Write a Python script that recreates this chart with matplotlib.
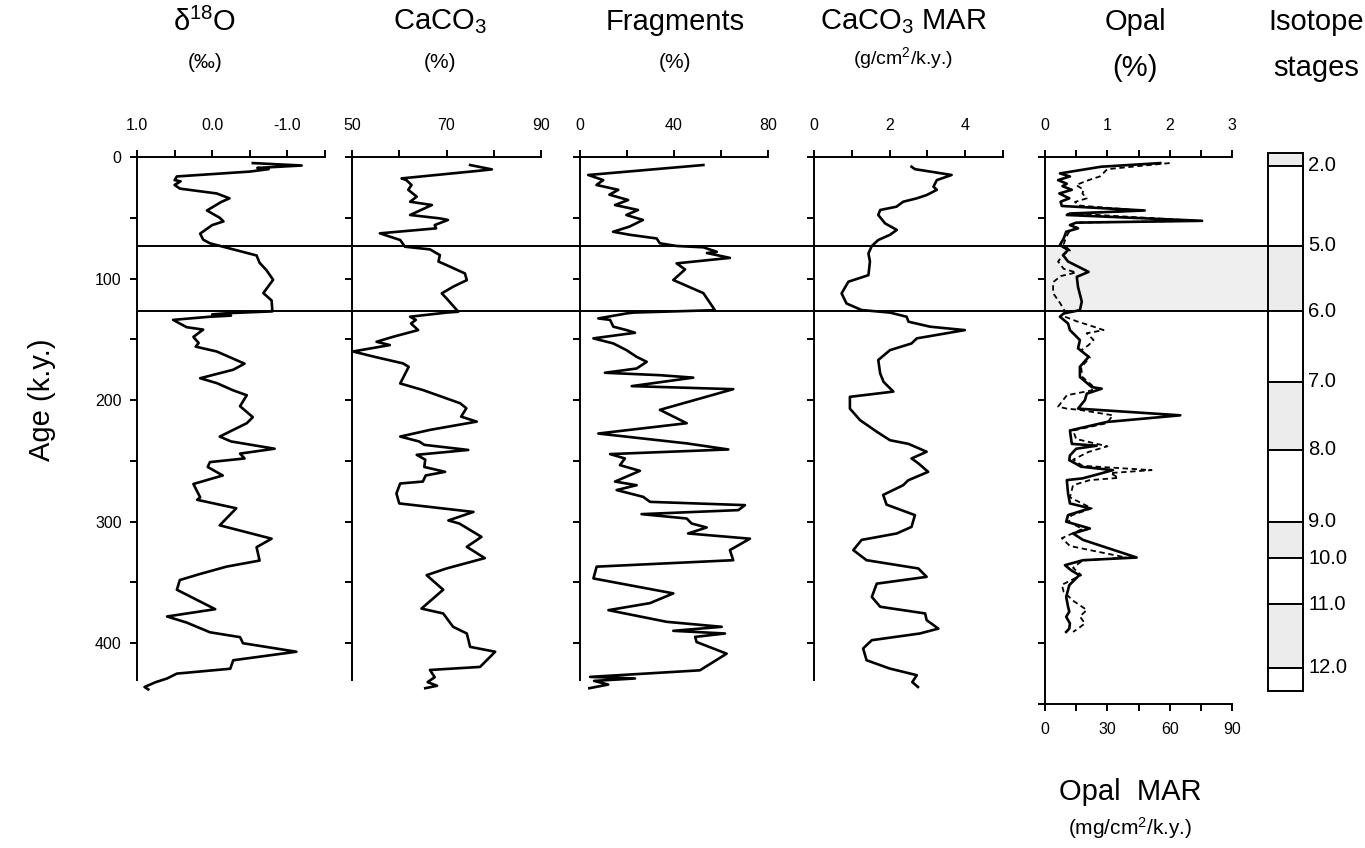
import matplotlib.pyplot as plt
from matplotlib.patches import Rectangle

plt.rcParams["font.family"] = ["Liberation Sans", "DejaVu Sans"]
plt.rcParams["mathtext.fontset"] = "custom"
plt.rcParams["mathtext.rm"] = "Liberation Sans"
plt.rcParams["mathtext.default"] = "rm"

# ---- data (age in k.y.) ----
d18o_age = [5, 7, 9, 10, 12, 16, 19, 20, 23, 26, 30, 34, 37, 44, 50, 53, 56, 63, 68, 71,
            76, 81, 87, 93, 101, 112, 118, 127, 128.5, 129.5, 130.5, 131.5, 134, 140, 142,
            148, 153, 156, 160, 170, 175, 182, 186, 192, 196, 205, 214, 219, 230, 234, 240,
            244, 248, 251, 255, 262, 269, 280, 282, 289, 303, 314, 321, 332, 337, 343, 348,
            356, 372, 378, 383, 391, 395, 400, 407, 414, 421, 425, 429, 432, 436, 438]
d18o_val = [-0.54, -1.19, -0.6, -0.75, -0.5, 0.47, 0.5, 0.42, 0.5, 0.43, -0.06, -0.23, -0.12,
            0.07, -0.1, -0.15, 0.0, 0.16, 0.12, 0.03, -0.28, -0.59, -0.63, -0.72, -0.81,
            -0.68, -0.79, -0.8, -0.2, 0.0, -0.25, 0.05, 0.52, 0.34, 0.12, 0.25, 0.18, 0.22,
            -0.06, -0.43, -0.28, 0.16, -0.06, -0.28, -0.46, -0.37, -0.54, -0.46, -0.1, -0.25,
            -0.83, -0.37, -0.43, 0.03, 0.06, -0.14, 0.25, 0.16, 0.2, -0.32, -0.1, -0.79,
            -0.59, -0.63, -0.19, 0.16, 0.43, 0.47, -0.04, 0.6, 0.34, 0.03, -0.37, -0.41,
            -1.12, -0.28, -0.24, 0.47, 0.6, 0.75, 0.9, 0.85]

caco3_age = [6.6, 10.2, 11.5, 17.6, 19, 23, 27, 32.6, 36.8, 39.5, 47.7, 50.5, 51.8, 56, 58.7,
             62.8, 68.3, 73.8, 76, 80.7, 86, 88.9, 95.8, 101.3, 106.7, 112.2, 116.3, 127.3,
             128, 131.4, 134, 137, 142.4, 147.9, 152, 154.7, 160, 164.6, 169.8, 172.6, 186.3,
             191.7, 202.6, 206.7, 213.6, 217.7, 224.5, 230, 234, 236.8, 241, 245, 249, 255,
             259, 262, 267, 268.6, 276.8, 285, 292, 299, 301.5, 312.5, 320.7, 330, 338.5,
             344, 356, 371.5, 375.5, 386.5, 392, 403, 407, 419.5, 422, 428, 432, 435, 437]
caco3_val = [75, 79.6, 76.4, 60.5, 61.5, 62.6, 61.9, 63.7, 62.3, 66.9, 62.3, 68.6, 70.3, 67.5,
             67.8, 55.9, 60.2, 61.2, 66.5, 68.6, 68.3, 70, 73.9, 74.3, 71.4, 69, 70, 72.5, 70,
             62.3, 63.5, 62.5, 64, 58.7, 55.2, 58, 50.2, 55, 60.8, 62, 60.2, 65, 72.9, 74.2,
             73.1, 76.4, 66.5, 60.2, 64.2, 65.3, 74.6, 63.7, 65.5, 65.3, 69.7, 65.6, 65, 60.2,
             59.4, 60, 75.7, 70.4, 72.7, 77.4, 74.3, 78.1, 70, 65.8, 69.3, 64.7, 69.3, 71.4,
             74.3, 75, 80.3, 77.1, 66.5, 67.5, 66, 68, 65.5]

frag_age = [6.6, 14.8, 19, 23, 27, 31, 35.4, 39.5, 43.6, 47.7, 51.8, 57.3, 61.5, 64, 67, 71,
            73.2, 74.3, 78, 79, 83, 87.5, 92.5, 101.2, 112, 126, 128, 128.7, 132.8, 134,
            139.6, 142.4, 144.6, 149.2, 153.4, 158.9, 164.4, 168.5, 174, 177.5, 179.5, 181.5,
            188.5, 191, 208, 219, 227.5, 235.6, 240.6, 244.4, 248, 253.5, 258.2, 267, 270,
            274, 279.6, 283.7, 286.4, 290.5, 293.8, 297.4, 301.5, 304.8, 309.7, 314, 323.4,
            331.7, 337, 346.7, 359, 367, 372.8, 382.4, 386.5, 389.8, 392, 394.8, 399, 408.6,
            422.3, 427.7, 429, 431, 434, 437]
frag_val = [52.5, 3.5, 9.9, 7, 16.3, 12.5, 20.5, 14.9, 24.7, 19.7, 26.8, 21, 14.1, 21.2, 32.6,
            34, 41.1, 52.5, 58.2, 54, 63.8, 41.1, 44.7, 39.7, 52.5, 57.4, 22.7, 19.8, 7.8,
            12.8, 14.2, 19.8, 23.4, 5.7, 14.2, 19.8, 24.1, 28.4, 24.1, 10.6, 34, 48.2, 22,
            65.2, 34, 45.4, 7.8, 45.4, 63.1, 12.8, 19.1, 17, 25.5, 14.9, 24.1, 15.6, 26.9,
            29.8, 70.2, 67.4, 26.2, 45.4, 47.5, 53.9, 46, 72.3, 63.8, 65.2, 7.1, 5.7, 39.7,
            29.8, 12.1, 36.9, 60.3, 39.7, 61.7, 49, 49.6, 62.4, 51, 4.3, 23.4, 6, 12, 4]

mar_age = [8, 10, 13.5, 14.8, 19, 24.4, 27, 31.3, 34, 36.8, 40.9, 43.6, 47.7, 54.6, 60, 64,
           68.3, 73.2, 79.3, 86, 97.2, 102.6, 112.2, 120.5, 125.9, 128, 131.4, 135.5, 139.6,
           142.4, 149.2, 153.4, 158.9, 167, 178, 185, 193, 197.3, 207, 216.5, 226, 233, 236,
           242.5, 248, 252, 259, 266, 270, 278, 286, 294.6, 304.3, 309.7, 315, 323.4, 331.7,
           338.5, 345.4, 351, 361.9, 370, 375.5, 381, 388, 392, 397.5, 404.3, 414, 420.8,
           426.3, 432, 436]
mar_val = [2.58, 2.67, 3.38, 3.64, 3.25, 3.16, 3.25, 2.98, 2.72, 2.36, 2.18, 1.75, 1.7, 1.88,
           2.19, 2.01, 1.7, 1.53, 1.44, 1.48, 1.44, 0.91, 0.73, 0.86, 1.26, 2.01, 2.45, 2.5,
           3.07, 3.99, 2.72, 2.58, 2.01, 1.7, 1.75, 1.84, 2.1, 0.95, 0.95, 1.22, 1.66, 2.01,
           2.5, 2.98, 2.58, 2.76, 3.02, 2.49, 2.36, 1.83, 1.92, 2.67, 2.58, 2.19, 1.26, 1.04,
           1.39, 2.76, 2.98, 1.66, 1.53, 1.75, 2.94, 2.98, 3.29, 2.8, 1.53, 1.3, 1.39, 2.0,
           2.72, 2.6, 2.75]

opal_age = [5, 8, 13.5, 16, 19, 22, 24, 27, 30, 34, 36.8, 40.3, 44, 46.5, 47.7, 52.5, 54, 56,
            58.7, 61.5, 67, 72.4, 76.5, 80.7, 86, 94.5, 98.6, 107, 119, 126, 128.7, 131.4,
            137, 142.4, 150.6, 157.4, 164.4, 172.6, 181, 189.3, 190.6, 194.7, 200, 207, 212.5,
            218, 225, 236, 237.5, 240, 245.5, 249.4, 254.8, 257.6, 261.7, 264.4, 265.8, 276.8,
            285, 289, 294.6, 300, 305.6, 309.7, 315, 329.5, 331.7, 335.8, 340, 344, 352.2,
            361.9, 370, 374, 378.3, 383.7, 387.9, 390.7]
opal_val = [1.85, 0.9, 0.24, 0.4, 0.21, 0.35, 0.28, 0.43, 0.23, 0.39, 0.25, 0.27, 1.6, 0.4,
            0.35, 2.52, 0.5, 0.4, 0.53, 0.34, 0.3, 0.24, 0.37, 0.29, 0.37, 0.7, 0.51, 0.53,
            0.59, 0.56, 0.3, 0.24, 0.37, 0.4, 0.56, 0.53, 0.7, 0.56, 0.56, 0.75, 0.91, 0.67,
            0.64, 0.53, 2.17, 0.99, 0.4, 0.43, 0.83, 0.5, 0.4, 0.39, 0.58, 1.09, 0.8, 0.6,
            0.35, 0.37, 0.4, 0.72, 0.37, 0.34, 0.72, 0.45, 0.61, 1.47, 0.61, 0.32, 0.42, 0.55,
            0.39, 0.34, 0.37, 0.39, 0.34, 0.4, 0.39, 0.34]

opal_mar_age = [5, 10, 16, 19, 23, 27, 30, 34, 37, 40, 44, 46.5, 52.5, 54, 58, 62, 67, 72, 77,
                80, 86, 92, 95, 98, 103, 112, 120, 127, 131, 135, 139.6, 142.4, 145, 150.6,
                154.7, 159, 165, 173, 181, 189, 192, 196, 205.4, 207, 208, 212.5, 219, 225,
                232, 238, 242.6, 249, 254, 257.6, 260, 264, 265.8, 270, 280, 289, 295, 300,
                306, 313.6, 320, 329.5, 332, 338, 344, 352, 357.7, 365, 372.6, 378, 383.7,
                388, 390.7]
opal_mar_val = [60, 30, 26.4, 21, 15, 18.6, 18, 20.1, 14.4, 16.8, 46.5, 13.5, 73.5, 16.5, 15,
                11.4, 9.9, 9, 12, 9, 6.3, 9, 15, 7.5, 3.9, 3.9, 7.2, 9.6, 9, 15, 23.4, 28.2,
                20.1, 23.4, 21, 17.4, 21.6, 17.4, 18, 23.4, 22.5, 10.5, 6.3, 10.5, 16.5, 32.7,
                29.7, 13.5, 15, 30, 21, 13.5, 18, 51.3, 31.5, 35.4, 21.6, 13.5, 12, 22.5, 12.6,
                11.4, 18, 8.1, 12, 39, 18, 13.5, 17.4, 8.1, 9, 13.5, 20.1, 16.8, 19.2, 15.9,
                13.5]

stage_bounds = [-3, 7, 73, 127, 185, 241, 300, 330, 368, 420, 439]
stage_shaded = [True, False, True, False, True, False, True, False, True, False]
stage_labels = ["2.0", "5.0", "6.0", "7.0", "8.0", "9.0", "10.0", "11.0", "12.0"]
stage_label_age = [7, 73, 127, 185, 241, 300, 330, 368, 420]
band = (73, 127)

# ---- layout in pixels ----
W, H = 1365, 848
Y0, Y1 = 157, 704  # rows of age 0 and age 450
LW = 1.4
CURVE = 1.9
TICK = 11.5


def px_axes(fig, x0, x1):
    return fig.add_axes([x0 / W, 1 - Y1 / H, (x1 - x0) / W, (Y1 - Y0) / H])


def setup_panel(ax, xlim, major, labels, minor, ybottom=430, ylabels=False):
    ax.set_facecolor("none")
    ax.set_xlim(*xlim)
    ax.set_ylim(450, 0)
    ax.xaxis.tick_top()
    ax.set_xticks(major)
    ax.set_xticklabels(labels, fontsize=TICK)
    ax.set_xticks(minor, minor=True)
    ax.set_yticks(range(0, ybottom + 1, 100))
    ax.set_yticks(range(50, ybottom + 1, 100), minor=True)
    if ylabels:
        ax.set_yticklabels([str(v) for v in range(0, ybottom + 1, 100)], fontsize=TICK)
    else:
        ax.set_yticklabels([])
    for s in ["right", "bottom"]:
        ax.spines[s].set_visible(False)
    ax.spines["left"].set_bounds(ybottom, 0)
    for s in ["left", "top"]:
        ax.spines[s].set_linewidth(LW)
    ax.tick_params(which="both", direction="out", length=5, width=LW)
    ax.tick_params(axis="x", which="both", pad=12)
    ax.tick_params(axis="y", which="both", pad=6)


fig = plt.figure(figsize=(W / 100, H / 100), dpi=100)

# stage boundaries running across the panels
bg = px_axes(fig, 137, 1268)
bg.set_xlim(0, 1)
bg.set_ylim(450, 0)
bg.axis("off")
bg.axhspan(band[0], band[1], xmin=(1045 - 137) / (1268 - 137), xmax=1, color="#efefef", lw=0)
for b in band:
    bg.axhline(b, color="black", lw=LW)

ax1 = px_axes(fig, 137, 325)
setup_panel(ax1, (1.0, -1.5), [1.0, 0.0, -1.0], ["1.0", "0.0", "-1.0"], [0.5, -0.5, -1.5],
            ylabels=True)
ax1.plot(d18o_val, d18o_age, color="black", lw=CURVE, solid_joinstyle="round", clip_on=False)

ax2 = px_axes(fig, 352, 541)
setup_panel(ax2, (50, 90), [50, 70, 90], ["50", "70", "90"], [60, 80])
ax2.plot(caco3_val, caco3_age, color="black", lw=CURVE, solid_joinstyle="round", clip_on=False)

ax3 = px_axes(fig, 580, 768)
setup_panel(ax3, (0, 80), [0, 40, 80], ["0", "40", "80"], [20, 60])
ax3.plot(frag_val, frag_age, color="black", lw=CURVE, solid_joinstyle="round", clip_on=False)

ax4 = px_axes(fig, 814, 1003)
setup_panel(ax4, (0, 5), [0, 2, 4], ["0", "2", "4"], [1, 3, 5])
ax4.plot(mar_val, mar_age, color="black", lw=CURVE, solid_joinstyle="round", clip_on=False)

ax5 = px_axes(fig, 1045, 1232)
ax5b = ax5.twiny()
setup_panel(ax5, (0, 3), [0, 1, 2, 3], ["0", "1", "2", "3"], [0.5, 1.5, 2.5], ybottom=450)
ax5.plot(opal_val, opal_age, color="black", lw=CURVE, solid_joinstyle="round")

# Opal MAR on its own bottom scale
ax5b.set_facecolor("none")
ax5b.set_xlim(0, 90)
ax5b.set_ylim(450, 0)
ax5b.xaxis.tick_bottom()
ax5b.set_xticks([0, 30, 60, 90])
ax5b.set_xticklabels(["0", "30", "60", "90"], fontsize=TICK)
ax5b.set_xticks([15, 45, 75], minor=True)
for s in ["top", "right", "left"]:
    ax5b.spines[s].set_visible(False)
ax5b.spines["bottom"].set_linewidth(LW)
ax5b.tick_params(which="both", direction="out", length=5, width=LW, pad=8)
ax5b.plot(opal_mar_val, opal_mar_age, color="black", lw=1.3, ls=(0, (3, 2)))
ax5.xaxis.tick_top()
ax5.xaxis.set_label_position("top")

# isotope stage column
axs = px_axes(fig, 1268, 1303)
axs.set_xlim(0, 1)
axs.set_ylim(450, 0)
axs.axis("off")
for b0, b1, shade in zip(stage_bounds[:-1], stage_bounds[1:], stage_shaded):
    axs.add_patch(Rectangle((0, b0), 1, b1 - b0, facecolor="#ececec" if shade else "white",
                            edgecolor="black", lw=LW, clip_on=False))
for lab, a in zip(stage_labels, stage_label_age):
    axs.text(1.15, a, lab, fontsize=14.5, va="center", ha="left")


# headings
def ftext(x, y, s, size, **kw):
    fig.text(x / W, 1 - y / H, s, fontsize=size, ha="center", va="center", **kw)


ftext(205, 22, r"δ$^{18}$O", 21)
ftext(205, 63, "(‰)", 15)
ftext(440, 22, r"CaCO$_3$", 21)
ftext(440, 63, "(%)", 15)
ftext(675, 22, "Fragments", 21)
ftext(675, 63, "(%)", 15)
ftext(903, 22, r"CaCO$_3$ MAR", 21)
ftext(903, 58, r"(g/cm$^2$/k.y.)", 14)
ftext(1135, 22, "Opal", 21)
ftext(1135, 68, "(%)", 21)
ftext(1316, 22, "Isotope", 21)
ftext(1316, 68, "stages", 21)
ftext(42, 400, "Age (k.y.)", 21, rotation=90)
ftext(1130, 792, "Opal  MAR", 21)
ftext(1130, 828, r"(mg/cm$^2$/k.y.)", 15)

fig.savefig("out.png", dpi=100)
